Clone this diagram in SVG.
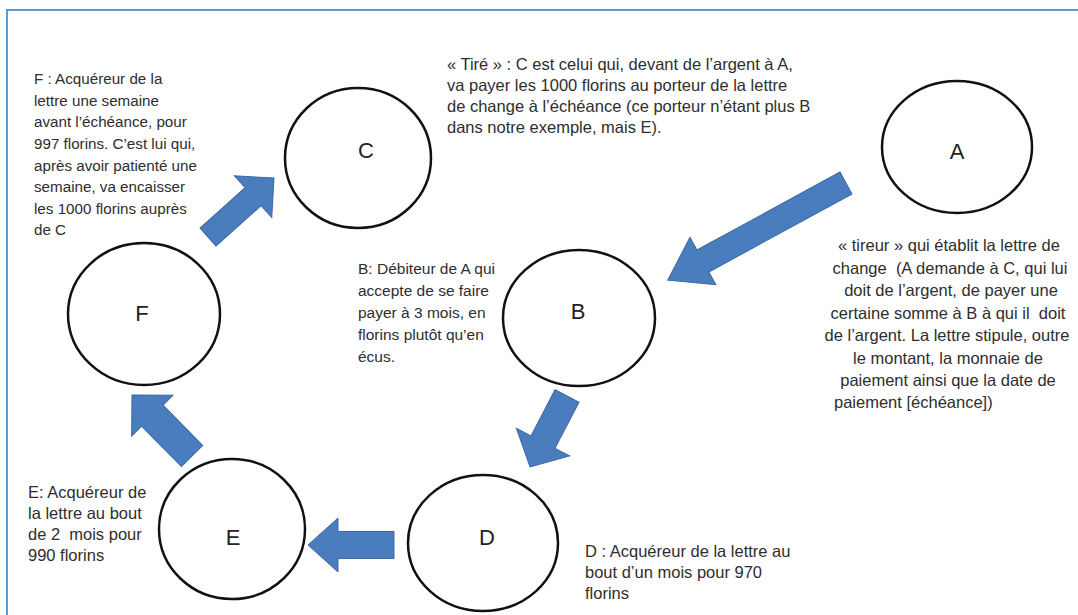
<svg xmlns="http://www.w3.org/2000/svg" width="1078" height="615" viewBox="0 0 1078 615">
<style>
.frame{stroke:#5b9bd5;stroke-width:2;fill:none}
.node ellipse{fill:#fff;stroke:#111;stroke-width:2.5}
.lbl{font-family:"Liberation Sans",Arial,sans-serif;font-size:22px;fill:#222;text-anchor:middle}
.t{font-family:"Liberation Sans",Arial,sans-serif;font-size:16.5px;fill:#2e2e2e}
.s{font-size:15.5px}
.f{font-size:15.2px}
.c{text-anchor:middle}
.pre{white-space:pre}
.arrow{fill:#4a7dbd;stroke:#3c68a3;stroke-width:1}
</style>
<rect width="1078" height="615" fill="#fff"/>
<path class="frame" d="M7,615 V10 H1078"/>

<g id="connectors">
<path class="arrow" transform="translate(846,183) rotate(151.4)" d="M0,-12.5 L163,-12.5 L163,-27 L203,0 L163,27 L163,12.5 L0,12.5 Z"/>
<path class="arrow" transform="translate(567,396) rotate(117.5)" d="M0,-13.5 L52,-13.5 L52,-30 L80,0 L52,30 L52,13.5 L0,13.5 Z"/>
<path class="arrow" transform="translate(394,545) rotate(180)" d="M0,-13.5 L56,-13.5 L56,-27 L86,0 L56,27 L56,13.5 L0,13.5 Z"/>
<path class="arrow" transform="translate(192,456) rotate(-134.5)" d="M0,-15 L56.6,-15 L56.6,-29 L85.6,0 L56.6,29 L56.6,15 L0,15 Z"/>
<path class="arrow" transform="translate(208,237) rotate(-41.8)" d="M0,-12 L60.5,-12 L60.5,-28 L88.5,0 L60.5,28 L60.5,12 L0,12 Z"/>
</g>

<g id="node-A" class="node">
<ellipse cx="957" cy="147" rx="75" ry="66"/>
<text class="lbl" x="957" y="159">A</text>
</g>
<g id="node-B" class="node">
<ellipse cx="579" cy="318" rx="76" ry="68"/>
<text class="lbl" x="578" y="319">B</text>
</g>
<g id="node-C" class="node">
<ellipse cx="358" cy="158" rx="73" ry="70"/>
<text class="lbl" x="366" y="158">C</text>
</g>
<g id="node-D" class="node">
<ellipse cx="483" cy="543" rx="75" ry="68"/>
<text class="lbl" x="487" y="545">D</text>
</g>
<g id="node-E" class="node">
<ellipse cx="232" cy="529" rx="73" ry="70"/>
<text class="lbl" x="233" y="545">E</text>
</g>
<g id="node-F" class="node">
<ellipse cx="144" cy="314" rx="76" ry="71"/>
<text class="lbl" x="142" y="321">F</text>
</g>

<g id="note-F">
<text class="t f" x="34" y="84">F : Acquéreur de la</text>
<text class="t f" x="34" y="106">lettre une semaine</text>
<text class="t f" x="34" y="127">avant l’échéance, pour</text>
<text class="t f" x="34" y="149">997 florins. C’est lui qui,</text>
<text class="t f" x="34" y="171">après avoir patienté une</text>
<text class="t f" x="34" y="192">semaine, va encaisser</text>
<text class="t f" x="34" y="214">les 1000 florins auprès</text>
<text class="t f" x="34" y="235">de C</text>
</g>
<g id="note-C">
<text class="t" x="447" y="70">« Tiré » : C est celui qui, devant de l’argent à A,</text>
<text class="t" x="447" y="91">va payer les 1000 florins au porteur de la lettre</text>
<text class="t" x="447" y="112">de change à l’échéance (ce porteur n’étant plus B</text>
<text class="t" x="447" y="133">dans notre exemple, mais E).</text>
</g>
<g id="note-A">
<text class="t c" x="949" y="251">« tireur » qui établit la lettre de</text>
<text class="t c pre" x="950" y="274">change  (A demande à C, qui lui</text>
<text class="t c" x="951" y="296">doit de l’argent, de payer une</text>
<text class="t c pre" x="948" y="319">certaine somme à B à qui il  doit</text>
<text class="t c" x="947" y="341">de l’argent. La lettre stipule, outre</text>
<text class="t c" x="948" y="364">le montant, la monnaie de</text>
<text class="t c" x="948" y="386">paiement ainsi que la date de</text>
<text class="t" x="834" y="408">paiement [échéance])</text>
</g>
<g id="note-B">
<text class="t s" x="358" y="274">B: Débiteur de A qui</text>
<text class="t s" x="358" y="296">accepte de se faire</text>
<text class="t s" x="358" y="318">payer à 3 mois, en</text>
<text class="t s" x="358" y="340">florins plutôt qu’en</text>
<text class="t s" x="358" y="362">écus.</text>
</g>
<g id="note-E">
<text class="t" x="28" y="498">E: Acquéreur de</text>
<text class="t" x="28" y="519">la lettre au bout</text>
<text class="t pre" x="28" y="540">de 2  mois pour</text>
<text class="t" x="28" y="561">990 florins</text>
</g>
<g id="note-D">
<text class="t" x="585" y="557">D : Acquéreur de la lettre au</text>
<text class="t" x="585" y="578">bout d’un mois pour 970</text>
<text class="t" x="585" y="599">florins</text>
</g>
</svg>
